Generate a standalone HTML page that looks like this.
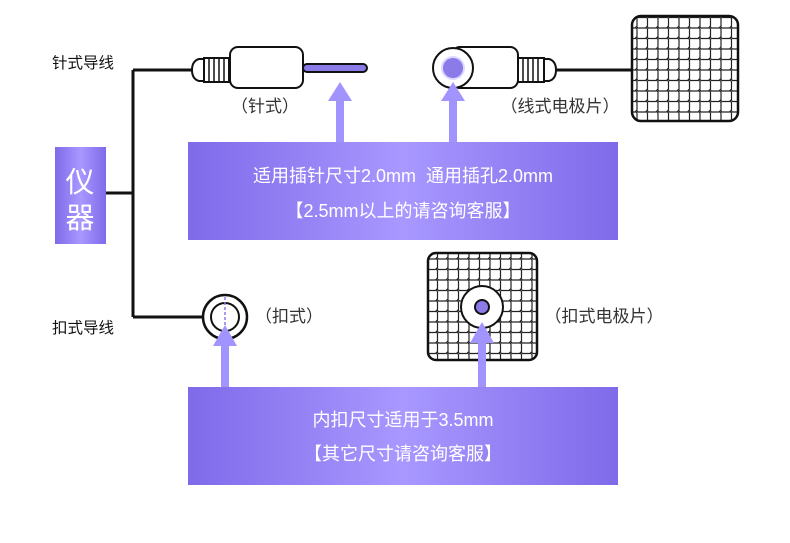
<!DOCTYPE html>
<html><head><meta charset="utf-8"><style>
body{margin:0;background:#fff;}
svg{display:block;font-family:"Liberation Sans","Noto Sans CJK SC",sans-serif;}
</style></head><body>
<svg width="790" height="543" viewBox="0 0 790 543">
<defs>
<linearGradient id="g" x1="0" x2="1" y1="0" y2="0">
<stop offset="0" stop-color="#7f6ae9"/><stop offset="0.5" stop-color="#a898ff"/><stop offset="1" stop-color="#7f6ae9"/>
</linearGradient>
<pattern id="mesh" x="2" y="2" width="10.5" height="10.5" patternUnits="userSpaceOnUse">
<path d="M0 5 h3 l1.5 -1.5 l1.5 1.5 h4.5 M5 0 v3 l-1.5 1.5 l1.5 1.5 v4.5" fill="none" stroke="#222" stroke-width="1.2"/>
</pattern>
</defs>
<g fill="#111" font-size="15.5"><text x="52" y="68">针式导线</text><text x="52" y="333">扣式导线</text></g>
<rect x="55" y="147" width="51" height="97" fill="url(#g)"/>
<text x="80" y="192" font-size="29" fill="#fff" text-anchor="middle">仪</text>
<text x="80" y="228" font-size="29" fill="#fff" text-anchor="middle">器</text>
<path d="M106 193H133M133 70V317M133 70H193M133 317H203" stroke="#111" stroke-width="3" fill="none"/>
<path d="M204 59 L199 59 Q192 61 192 70 Q192 79 199 81 L204 81 Z" fill="#fff" stroke="#111" stroke-width="2"/>
<rect x="204" y="58" width="25" height="24" fill="#fff" stroke="#111" stroke-width="2"/>
<path d="M209 58V82M214 58V82M219 58V82M224 58V82" stroke="#111" stroke-width="1.5"/>
<rect x="230" y="47" width="73" height="41" rx="8" fill="#fff" stroke="#111" stroke-width="2"/>
<rect x="303" y="64" width="64" height="8" rx="4" fill="#8a7be8" stroke="#111" stroke-width="2"/>
<text x="265" y="112" font-size="17" fill="#333" text-anchor="middle">（针式）</text>
<rect x="452" y="47" width="66" height="41" rx="8" fill="#fff" stroke="#111" stroke-width="2"/>
<circle cx="453" cy="68" r="20" fill="#fff" stroke="#111" stroke-width="2"/>
<circle cx="453" cy="68" r="12" fill="#ddd8ff"/>
<circle cx="453" cy="68" r="10" fill="#8a7be8"/>
<rect x="518" y="58" width="26" height="24" fill="#fff" stroke="#111" stroke-width="2"/>
<path d="M523 58V82M528 58V82M533 58V82M538 58V82" stroke="#111" stroke-width="1.5"/>
<path d="M544 59 L549 59 Q556 61 556 70 Q556 79 549 81 L544 81 Z" fill="#fff" stroke="#111" stroke-width="2"/>
<path d="M556 70H632" stroke="#111" stroke-width="3"/>
<text x="560" y="112" font-size="17" fill="#333" text-anchor="middle">（线式电极片）</text>
<rect x="632" y="16" width="106" height="105" rx="9" fill="url(#mesh)" stroke="#111" stroke-width="2.5"/>
<g fill="#a294ff">
<rect x="336" y="98" width="8" height="45"/><path d="M328 101L340 82L352 101Z"/>
<rect x="449" y="98" width="8" height="45"/><path d="M441 101L453 82L465 101Z"/>
</g>
<rect x="188" y="142" width="430" height="98" fill="url(#g)"/>
<g fill="#fff" font-size="18" text-anchor="middle">
<text x="403" y="182">适用插针尺寸2.0mm&#160;&#160;通用插孔2.0mm</text>
<text x="403" y="217">【2.5mm以上的请咨询客服】</text>
</g>
<circle cx="225" cy="317" r="22" fill="#fff" stroke="#111" stroke-width="2.5"/>
<circle cx="225" cy="317" r="14" fill="#fff" stroke="#111" stroke-width="2"/>
<path d="M225 297V330" stroke="#8a7be8" stroke-width="1.5" stroke-dasharray="3 2"/>
<text x="289" y="322" font-size="17" fill="#333" text-anchor="middle">（扣式）</text>
<rect x="428" y="253" width="109" height="107" rx="8" fill="url(#mesh)" stroke="#111" stroke-width="2.5"/>
<circle cx="482" cy="307" r="21" fill="#fff" stroke="#111" stroke-width="2"/>
<circle cx="482" cy="307" r="7" fill="#8a7be8" stroke="#111" stroke-width="2"/>
<text x="604" y="322" font-size="17" fill="#333" text-anchor="middle">（扣式电极片）</text>
<g fill="#a294ff">
<rect x="221" y="342" width="8" height="46"/><path d="M213 346L225 325L237 346Z"/>
<rect x="478" y="340" width="8" height="48"/><path d="M470 343L482 322L494 343Z"/>
</g>
<rect x="188" y="387" width="430" height="98" fill="url(#g)"/>
<g fill="#fff" font-size="18" text-anchor="middle">
<text x="403" y="426">内扣尺寸适用于3.5mm</text>
<text x="403" y="460">【其它尺寸请咨询客服】</text>
</g>
</svg>
</body></html>
